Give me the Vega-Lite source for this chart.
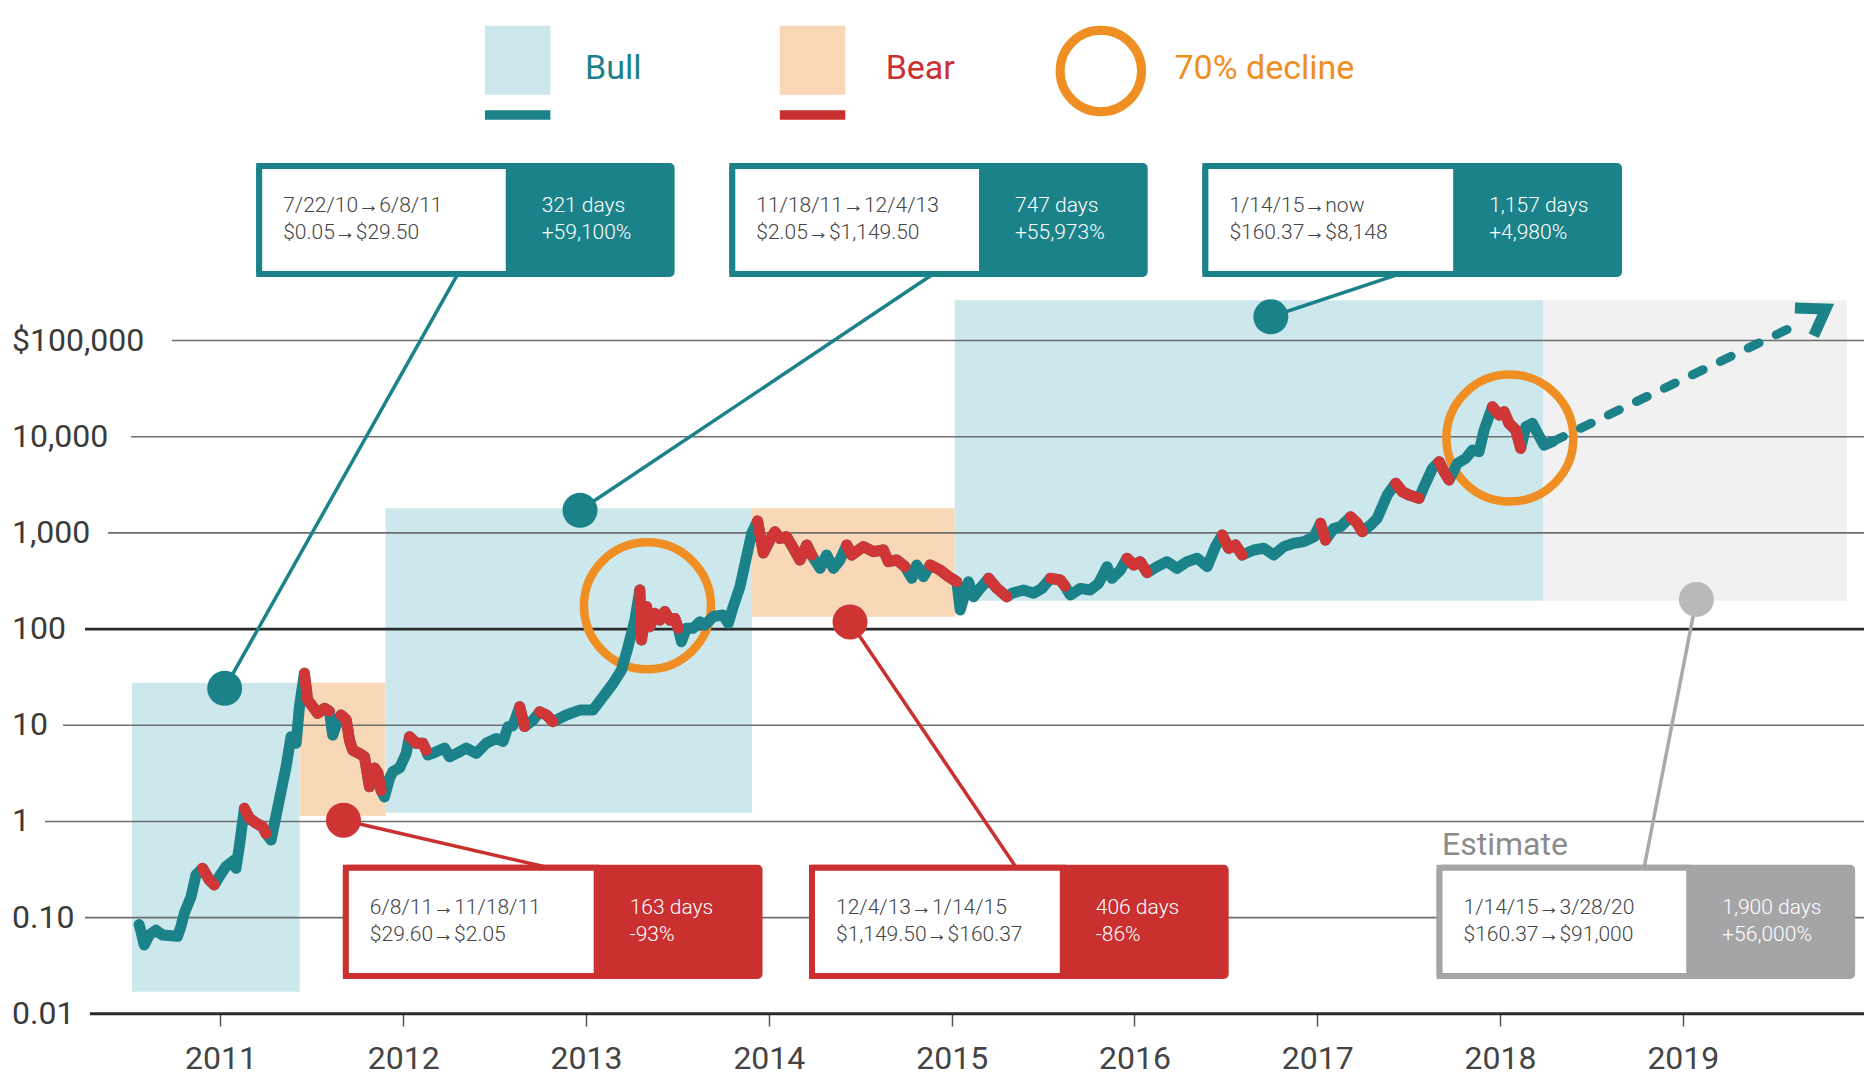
{
  "$schema": "https://vega.github.io/schema/vega-lite/v6.json",
  "width": 1864,
  "height": 1081,
  "padding": 0,
  "autosize": {"type": "none"},
  "background": "white",
  "config": {
    "view": {"stroke": null},
    "font": "Roboto",
    "axisY": {"disable": true},
    "axisX": {"offset": -67, "domain": false, "grid": false, "tickSize": 12, "tickColor": "#555", "tickWidth": 1.5, "labelFontSize": 32, "labelColor": "#444", "labelPadding": 17, "labelFlush": false, "labelOverlap": false, "labelFont": "Roboto"}
  },
  "resolve": {"scale": {"fill": "independent", "stroke": "independent", "color": "independent"}},
  "datasets": {
    "price": [
      {"t":2010.555,"p":0.085},{"t":2010.565,"p":0.072},{"t":2010.583,"p":0.052},{"t":2010.61,"p":0.066},{"t":2010.647,"p":0.074},{"t":2010.683,"p":0.066},{"t":2010.765,"p":0.064},{"t":2010.784,"p":0.081},{"t":2010.802,"p":0.111},{"t":2010.839,"p":0.165},{"t":2010.866,"p":0.278},
      {"t":2010.902,"p":0.326,"r":1},{"t":2010.939,"p":0.247,"r":1},{"t":2010.966,"p":0.219,"r":1},
      {"t":2010.993,"p":0.267},{"t":2011.03,"p":0.339},{"t":2011.076,"p":0.398},{"t":2011.085,"p":0.326},{"t":2011.103,"p":0.547},
      {"t":2011.131,"p":1.37,"r":2},{"t":2011.158,"p":1.08,"r":2},{"t":2011.195,"p":0.96,"r":2},{"t":2011.231,"p":0.88,"r":2},{"t":2011.249,"p":0.75,"r":2},
      {"t":2011.277,"p":0.64},{"t":2011.322,"p":1.68},{"t":2011.359,"p":3.7},{"t":2011.386,"p":7.6},{"t":2011.414,"p":6.5},{"t":2011.432,"p":15.6},
      {"t":2011.459,"p":34.7,"r":3},{"t":2011.477,"p":18.3,"r":3},{"t":2011.505,"p":15.6,"r":3},{"t":2011.532,"p":13.3,"r":3},{"t":2011.569,"p":15,"r":3},{"t":2011.596,"p":14,"r":3},
      {"t":2011.614,"p":7.9},{"t":2011.633,"p":10},
      {"t":2011.66,"p":12.8,"r":4},{"t":2011.688,"p":11.4,"r":4},{"t":2011.706,"p":7,"r":4},{"t":2011.724,"p":5.5,"r":4},{"t":2011.76,"p":5.1,"r":4},{"t":2011.788,"p":4.7,"r":4},{"t":2011.815,"p":2.3,"r":4},{"t":2011.843,"p":3.6,"r":4},{"t":2011.861,"p":3.2,"r":4},{"t":2011.879,"p":2.1,"r":4},
      {"t":2011.897,"p":1.8},{"t":2011.925,"p":2.8},{"t":2011.943,"p":3.3},{"t":2011.98,"p":3.6},{"t":2012.016,"p":5.1},
      {"t":2012.034,"p":7.6,"r":5},{"t":2012.071,"p":6.5,"r":5},{"t":2012.107,"p":6.5,"r":5},{"t":2012.125,"p":5.5,"r":5},
      {"t":2012.134,"p":4.9},{"t":2012.18,"p":5.3},{"t":2012.226,"p":5.8},{"t":2012.253,"p":4.7},{"t":2012.3,"p":5.2},{"t":2012.345,"p":5.8},{"t":2012.4,"p":5.1},{"t":2012.454,"p":6.5},{"t":2012.509,"p":7.3},{"t":2012.546,"p":6.8},{"t":2012.573,"p":9.7},{"t":2012.6,"p":9.9},
      {"t":2012.637,"p":15.6,"r":6},{"t":2012.664,"p":9.7,"r":6},
      {"t":2012.71,"p":11.3},
      {"t":2012.746,"p":13.8,"r":7},{"t":2012.783,"p":12.8,"r":7},{"t":2012.819,"p":10.9,"r":7},
      {"t":2012.892,"p":12.8},{"t":2012.965,"p":14.4},{"t":2013.038,"p":14.4},{"t":2013.093,"p":19.8},{"t":2013.148,"p":27.3},{"t":2013.194,"p":37.6},{"t":2013.23,"p":65.6},{"t":2013.267,"p":124},
      {"t":2013.294,"p":255,"r":8},{"t":2013.303,"p":77,"r":8},{"t":2013.331,"p":171,"r":8},{"t":2013.349,"p":106,"r":8},{"t":2013.376,"p":146,"r":8},{"t":2013.404,"p":124,"r":8},{"t":2013.431,"p":152,"r":8},{"t":2013.458,"p":124,"r":8},{"t":2013.486,"p":129,"r":8},{"t":2013.504,"p":102,"r":8},
      {"t":2013.522,"p":74},{"t":2013.549,"p":102},{"t":2013.586,"p":102},{"t":2013.623,"p":119},{"t":2013.65,"p":110},{"t":2013.695,"p":135},{"t":2013.75,"p":140},{"t":2013.778,"p":115},{"t":2013.805,"p":171},{"t":2013.842,"p":276},{"t":2013.878,"p":566},{"t":2013.906,"p":990},
      {"t":2013.938,"p":1330,"r":9},{"t":2013.97,"p":620,"r":9},{"t":2014.006,"p":843,"r":9},{"t":2014.033,"p":1028,"r":9},{"t":2014.06,"p":878,"r":9},{"t":2014.097,"p":913,"r":9},{"t":2014.134,"p":692,"r":9},{"t":2014.17,"p":523,"r":9},{"t":2014.207,"p":748,"r":9},{"t":2014.234,"p":589,"r":9},
      {"t":2014.28,"p":428},{"t":2014.316,"p":589},{"t":2014.353,"p":428},{"t":2014.389,"p":523},
      {"t":2014.426,"p":748,"r":10},{"t":2014.453,"p":589,"r":10},{"t":2014.517,"p":720,"r":10},{"t":2014.572,"p":638,"r":10},{"t":2014.627,"p":664,"r":10},{"t":2014.654,"p":502,"r":10},{"t":2014.7,"p":523,"r":10},{"t":2014.745,"p":446,"r":10},
      {"t":2014.782,"p":337},{"t":2014.809,"p":464},{"t":2014.846,"p":351},
      {"t":2014.882,"p":464,"r":11},{"t":2014.937,"p":411,"r":11},{"t":2014.983,"p":351,"r":11},{"t":2015.028,"p":311,"r":11},
      {"t":2015.047,"p":158},{"t":2015.092,"p":311},{"t":2015.12,"p":217},{"t":2015.156,"p":265},
      {"t":2015.202,"p":337,"r":12},{"t":2015.248,"p":265,"r":12},{"t":2015.302,"p":217,"r":12},
      {"t":2015.33,"p":236},{"t":2015.393,"p":255},{"t":2015.448,"p":236},{"t":2015.494,"p":265},
      {"t":2015.54,"p":337,"r":13},{"t":2015.594,"p":324,"r":13},{"t":2015.62,"p":280,"r":13},
      {"t":2015.649,"p":226},{"t":2015.704,"p":265},{"t":2015.758,"p":255},{"t":2015.804,"p":299},{"t":2015.85,"p":446},{"t":2015.877,"p":337},{"t":2015.923,"p":411},
      {"t":2015.959,"p":545,"r":14},{"t":2015.996,"p":464,"r":14},{"t":2016.032,"p":502,"r":14},{"t":2016.069,"p":386,"r":14},
      {"t":2016.124,"p":446},{"t":2016.178,"p":502},{"t":2016.233,"p":428},{"t":2016.288,"p":502},{"t":2016.343,"p":545},{"t":2016.398,"p":446},{"t":2016.443,"p":720},
      {"t":2016.48,"p":951,"r":15},{"t":2016.516,"p":692,"r":15},{"t":2016.553,"p":748,"r":15},{"t":2016.589,"p":589,"r":15},
      {"t":2016.653,"p":664},{"t":2016.708,"p":692},{"t":2016.762,"p":589},{"t":2016.817,"p":720},{"t":2016.872,"p":780},{"t":2016.927,"p":811},{"t":2016.982,"p":912},
      {"t":2017.018,"p":1259,"r":16},{"t":2017.045,"p":843,"r":16},
      {"t":2017.091,"p":1117},{"t":2017.128,"p":1161},
      {"t":2017.182,"p":1472,"r":17},{"t":2017.219,"p":1259,"r":17},{"t":2017.246,"p":1028,"r":17},
      {"t":2017.29,"p":1200},{"t":2017.328,"p":1419},{"t":2017.383,"p":2477},
      {"t":2017.429,"p":3279,"r":18},{"t":2017.466,"p":2679,"r":18},{"t":2017.502,"p":2477,"r":18},{"t":2017.557,"p":2291,"r":18},
      {"t":2017.584,"p":3022},{"t":2017.63,"p":4686},
      {"t":2017.667,"p":5495,"r":19},{"t":2017.694,"p":4325,"r":19},{"t":2017.721,"p":3548,"r":19},
      {"t":2017.767,"p":5284},{"t":2017.812,"p":5957},{"t":2017.849,"p":7271},{"t":2017.885,"p":6988},{"t":2017.913,"p":11740},
      {"t":2017.958,"p":20500,"r":20},{"t":2017.995,"p":16800,"r":20},{"t":2018.022,"p":18200,"r":20},{"t":2018.049,"p":13800,"r":20},{"t":2018.086,"p":11750,"r":20},{"t":2018.113,"p":7570,"r":20},
      {"t":2018.141,"p":12700},{"t":2018.177,"p":13800},{"t":2018.205,"p":10860},{"t":2018.241,"p":8200},{"t":2018.287,"p":8870}
    ],
    "grid": [
      {"v":0.01,"lab":"0.01"},{"v":0.1,"lab":"0.10"},{"v":1,"lab":"1"},{"v":10,"lab":"10"},{"v":100,"lab":"100"},{"v":1000,"lab":"1,000"},{"v":10000,"lab":"10,000"},{"v":100000,"lab":"$100,000"}
    ],
    "boxes": [
      {"k":"bull","x1":2011.212,"xs":2012.577,"x2":2013.468,"top":6530000,"bot":491000,"l1":"7/22/10→6/8/11","l2":"$0.05→$29.50","r1":"321 days","r2":"+59,100%"},
      {"k":"bull","x1":2013.8,"xs":2015.166,"x2":2016.056,"top":6530000,"bot":491000,"l1":"11/18/11→12/4/13","l2":"$2.05→$1,149.50","r1":"747 days","r2":"+55,973%"},
      {"k":"bull","x1":2016.388,"xs":2017.76,"x2":2018.651,"top":6530000,"bot":491000,"l1":"1/14/15→now","l2":"$160.37→$8,148","r1":"1,157 days","r2":"+4,980%"},
      {"k":"bear","x1":2011.686,"xs":2013.058,"x2":2013.949,"top":0.33,"bot":0.0248,"l1":"6/8/11→11/18/11","l2":"$29.60→$2.05","r1":"163 days","r2":"-93%"},
      {"k":"bear","x1":2014.236,"xs":2015.608,"x2":2016.499,"top":0.33,"bot":0.0248,"l1":"12/4/13→1/14/15","l2":"$1,149.50→$160.37","r1":"406 days","r2":"-86%"},
      {"k":"est","x1":2017.669,"xs":2019.035,"x2":2019.926,"top":0.33,"bot":0.0248,"l1":"1/14/15→3/28/20","l2":"$160.37→$91,000","r1":"1,900 days","r2":"+56,000%"}
    ],
    "leaders": [
      {"k":"bull","bx":2012.298,"by":491000,"px":2011.023,"py":24.2},
      {"k":"bull","bx":2014.899,"by":491000,"px":2012.967,"py":1718},
      {"k":"bull","bx":2017.448,"by":491000,"px":2016.746,"py":176600},
      {"k":"bear","bx":2012.798,"by":0.33,"px":2011.673,"py":1.03},
      {"k":"bear","bx":2015.354,"by":0.33,"px":2014.444,"py":118.6},
      {"k":"est","bx":2018.788,"by":0.33,"px":2019.074,"py":203.7}
    ]
  },
  "layer": [
    {
      "data": {"values": [
        {"k":"bull","x1":2010.516,"x2":2011.433,"lo":0.017,"hi":27.7},
        {"k":"bear","x1":2011.433,"x2":2011.903,"lo":1.14,"hi":27.7},
        {"k":"bull","x1":2011.903,"x2":2013.908,"lo":1.23,"hi":1800},
        {"k":"bear","x1":2013.908,"x2":2015.017,"lo":134,"hi":1800},
        {"k":"bull","x1":2015.017,"x2":2018.237,"lo":197,"hi":262000},
        {"k":"est","x1":2018.237,"x2":2019.898,"lo":197,"hi":262000}
      ]},
      "mark": {"type": "rect"},
      "encoding": {
        "x": {"field": "x1", "type": "quantitative", "scale": {"domain": [2009.794, 2019.991], "nice": false, "zero": false}, "axis": {"values": [2011,2012,2013,2014,2015,2016,2017,2018,2019], "format": "d", "title": null}},
        "x2": {"field": "x2"},
        "y": {"field": "lo", "type": "quantitative", "scale": {"type": "log", "domain": [0.002004, 347000000], "nice": false}, "axis": null},
        "y2": {"field": "hi"},
        "fill": {"field": "k", "type": "nominal", "scale": {"domain": ["bull","bear","est"], "range": ["#cde8ec","#f9d8b8","#f1f1f1"]}, "legend": null}
      }
    },
    {"data": {"name": "grid"}, "transform": [{"filter": "datum.v == 100000"}], "mark": {"type": "rule", "color": "#6e6e6e", "strokeWidth": 1.6},
      "encoding": {"y": {"field": "v", "type": "quantitative"}, "x": {"datum": 2010.735}, "x2": {"datum": 2019.991}}},
    {"data": {"name": "grid"}, "transform": [{"filter": "datum.v == 10000"}], "mark": {"type": "rule", "color": "#6e6e6e", "strokeWidth": 1.6},
      "encoding": {"y": {"field": "v", "type": "quantitative"}, "x": {"datum": 2010.511}, "x2": {"datum": 2019.991}}},
    {"data": {"name": "grid"}, "transform": [{"filter": "datum.v == 1000"}], "mark": {"type": "rule", "color": "#6e6e6e", "strokeWidth": 1.6},
      "encoding": {"y": {"field": "v", "type": "quantitative"}, "x": {"datum": 2010.385}, "x2": {"datum": 2019.991}}},
    {"data": {"name": "grid"}, "transform": [{"filter": "datum.v == 100"}], "mark": {"type": "rule", "color": "#2a2a2a", "strokeWidth": 2.6},
      "encoding": {"y": {"field": "v", "type": "quantitative"}, "x": {"datum": 2010.259}, "x2": {"datum": 2019.991}}},
    {"data": {"name": "grid"}, "transform": [{"filter": "datum.v == 10"}], "mark": {"type": "rule", "color": "#6e6e6e", "strokeWidth": 1.6},
      "encoding": {"y": {"field": "v", "type": "quantitative"}, "x": {"datum": 2010.139}, "x2": {"datum": 2019.991}}},
    {"data": {"name": "grid"}, "transform": [{"filter": "datum.v == 1"}], "mark": {"type": "rule", "color": "#6e6e6e", "strokeWidth": 1.6},
      "encoding": {"y": {"field": "v", "type": "quantitative"}, "x": {"datum": 2010.04}, "x2": {"datum": 2019.991}}},
    {"data": {"name": "grid"}, "transform": [{"filter": "datum.v == 0.1"}], "mark": {"type": "rule", "color": "#6e6e6e", "strokeWidth": 1.6},
      "encoding": {"y": {"field": "v", "type": "quantitative"}, "x": {"datum": 2010.259}, "x2": {"datum": 2019.991}}},
    {"data": {"name": "grid"}, "transform": [{"filter": "datum.v == 0.01"}], "mark": {"type": "rule", "color": "#2a2a2a", "strokeWidth": 3},
      "encoding": {"y": {"field": "v", "type": "quantitative"}, "x": {"datum": 2010.286}, "x2": {"datum": 2019.991}}},
    {
      "data": {"name": "grid"},
      "mark": {"type": "text", "align": "left", "baseline": "middle", "fontSize": 32, "fill": "#3a3a3a"},
      "encoding": {"x": {"datum": 2009.86}, "y": {"field": "v", "type": "quantitative"}, "text": {"field": "lab"}}
    },
    {
      "data": {"values": [{"t":2013.336,"p":174.6},{"t":2018.054,"p":9690}]},
      "mark": {"type": "point", "shape": "circle", "size": 16129, "filled": false, "stroke": "#ee8e23", "strokeWidth": 8.5, "opacity": 1},
      "encoding": {"x": {"field": "t", "type": "quantitative"}, "y": {"field": "p", "type": "quantitative"}}
    },
    {
      "data": {"name": "price"},
      "mark": {"type": "line", "color": "#1b8289", "strokeWidth": 11, "strokeCap": "round", "strokeJoin": "round"},
      "encoding": {"x": {"field": "t", "type": "quantitative"}, "y": {"field": "p", "type": "quantitative"}}
    },
    {
      "data": {"name": "price"},
      "transform": [{"filter": "datum.r > 0"}],
      "mark": {"type": "line", "color": "#d13636", "strokeWidth": 11, "strokeCap": "round", "strokeJoin": "round"},
      "encoding": {"x": {"field": "t", "type": "quantitative"}, "y": {"field": "p", "type": "quantitative"}, "detail": {"field": "r", "type": "nominal"}}
    },
    {
      "data": {"values": [{"t":2018.287,"p":8870},{"t":2019.641,"p":151000}]},
      "mark": {"type": "line", "color": "#1b8289", "strokeWidth": 9, "strokeCap": "round", "strokeDash": [12, 19]},
      "encoding": {"x": {"field": "t", "type": "quantitative"}, "y": {"field": "p", "type": "quantitative"}}
    },
    {
      "data": {"values": [{"t":2019.613,"p":218000,"o":1},{"t":2019.782,"p":213000,"o":2},{"t":2019.716,"p":112000,"o":3}]},
      "mark": {"type": "line", "color": "#1b8289", "strokeWidth": 11, "strokeJoin": "miter", "strokeCap": "butt"},
      "encoding": {"x": {"field": "t", "type": "quantitative"}, "y": {"field": "p", "type": "quantitative"}, "order": {"field": "o", "type": "quantitative"}}
    },
    {
      "data": {"name": "leaders"},
      "mark": {"type": "rule", "strokeWidth": 3.5},
      "encoding": {
        "x": {"field": "px", "type": "quantitative"}, "y": {"field": "py", "type": "quantitative"},
        "x2": {"field": "bx"}, "y2": {"field": "by"},
        "stroke": {"field": "k", "type": "nominal", "scale": {"domain": ["bull","bear","est"], "range": ["#1b8289","#c9302f","#a9a9a9"]}, "legend": null}
      }
    },
    {
      "data": {"name": "leaders"},
      "mark": {"type": "point", "shape": "circle", "filled": true, "size": 1225, "opacity": 1},
      "encoding": {
        "x": {"field": "px", "type": "quantitative"}, "y": {"field": "py", "type": "quantitative"},
        "fill": {"field": "k", "type": "nominal", "scale": {"domain": ["bull","bear","est"], "range": ["#1b8289","#cf3434","#b9b9b9"]}, "legend": null}
      }
    },
    {
      "data": {"name": "boxes"},
      "mark": {"type": "rect", "strokeWidth": 6, "cornerRadius": 2},
      "encoding": {
        "x": {"field": "x1", "type": "quantitative"}, "x2": {"field": "x2"},
        "y": {"field": "top", "type": "quantitative"}, "y2": {"field": "bot"},
        "fill": {"field": "k", "type": "nominal", "scale": {"domain": ["bull","bear","est"], "range": ["#1b8289","#c9302f","#a5a5a7"]}, "legend": null},
        "stroke": {"field": "k", "type": "nominal", "scale": {"domain": ["bull","bear","est"], "range": ["#1b8289","#c9302f","#a5a5a7"]}, "legend": null}
      }
    },
    {
      "data": {"name": "boxes"},
      "mark": {"type": "rect", "strokeWidth": 6, "fill": "white"},
      "encoding": {
        "x": {"field": "x1", "type": "quantitative"}, "x2": {"field": "xs"},
        "y": {"field": "top", "type": "quantitative"}, "y2": {"field": "bot"},
        "stroke": {"field": "k", "type": "nominal", "scale": {"domain": ["bull","bear","est"], "range": ["#1b8289","#c9302f","#a5a5a7"]}, "legend": null}
      }
    },
    {
      "data": {"name": "boxes"},
      "mark": {"type": "text", "align": "left", "baseline": "middle", "fontSize": 21, "fontWeight": 300, "fill": "#444", "dx": 24, "dy": 40},
      "encoding": {"x": {"field": "x1", "type": "quantitative"}, "y": {"field": "top", "type": "quantitative"}, "text": {"field": "l1"}}
    },
    {
      "data": {"name": "boxes"},
      "mark": {"type": "text", "align": "left", "baseline": "middle", "fontSize": 21, "fontWeight": 300, "fill": "#444", "dx": 24, "dy": 67},
      "encoding": {"x": {"field": "x1", "type": "quantitative"}, "y": {"field": "top", "type": "quantitative"}, "text": {"field": "l2"}}
    },
    {
      "data": {"name": "boxes"},
      "mark": {"type": "text", "align": "left", "baseline": "middle", "fontSize": 21, "fontWeight": 300, "fill": "white", "dx": 33, "dy": 40},
      "encoding": {"x": {"field": "xs", "type": "quantitative"}, "y": {"field": "top", "type": "quantitative"}, "text": {"field": "r1"}}
    },
    {
      "data": {"name": "boxes"},
      "mark": {"type": "text", "align": "left", "baseline": "middle", "fontSize": 21, "fontWeight": 300, "fill": "white", "dx": 33, "dy": 67},
      "encoding": {"x": {"field": "xs", "type": "quantitative"}, "y": {"field": "top", "type": "quantitative"}, "text": {"field": "r2"}}
    },
    {
      "data": {"values": [{"k":"bull","x1":2012.447,"x2":2012.805},{"k":"bear","x1":2014.06,"x2":2014.418}]},
      "mark": {"type": "rect"},
      "encoding": {
        "x": {"field": "x1", "type": "quantitative"}, "x2": {"field": "x2"},
        "y": {"datum": 187000000}, "y2": {"datum": 36000000},
        "fill": {"field": "k", "type": "nominal", "scale": {"domain": ["bull","bear"], "range": ["#cce7eb","#f8d6b6"]}, "legend": null}
      }
    },
    {
      "data": {"values": [{"k":"bull","x1":2012.447,"x2":2012.805},{"k":"bear","x1":2014.06,"x2":2014.418}]},
      "mark": {"type": "rect"},
      "encoding": {
        "x": {"field": "x1", "type": "quantitative"}, "x2": {"field": "x2"},
        "y": {"datum": 24800000}, "y2": {"datum": 19800000},
        "fill": {"field": "k", "type": "nominal", "scale": {"domain": ["bull","bear"], "range": ["#1b8289","#c9302f"]}, "legend": null}
      }
    },
    {
      "data": {"values": [{"t":2015.816,"p":63400000}]},
      "mark": {"type": "point", "shape": "circle", "size": 6626, "filled": false, "stroke": "#ee8e23", "strokeWidth": 9, "opacity": 1},
      "encoding": {"x": {"field": "t", "type": "quantitative"}, "y": {"field": "p", "type": "quantitative"}}
    },
    {
      "data": {"values": [{"k":"bull","lab":"Bull","t":2012.994},{"k":"bear","lab":"Bear","t":2014.639},{"k":"dec","lab":"70% decline","t":2016.219}]},
      "mark": {"type": "text", "align": "left", "baseline": "middle", "fontSize": 34},
      "encoding": {
        "x": {"field": "t", "type": "quantitative"}, "y": {"datum": 67100000},
        "text": {"field": "lab"},
        "color": {"field": "k", "type": "nominal", "scale": {"domain": ["bull","bear","dec"], "range": ["#1b8289","#c9302f","#ee8e23"]}, "legend": null}
      }
    },
    {
      "data": {"values": [{"lab":"Estimate","t":2017.683,"p":0.566}]},
      "mark": {"type": "text", "align": "left", "baseline": "middle", "fontSize": 32, "fill": "#8c8c8c"},
      "encoding": {"x": {"field": "t", "type": "quantitative"}, "y": {"field": "p", "type": "quantitative"}, "text": {"field": "lab"}}
    }
  ]
}
